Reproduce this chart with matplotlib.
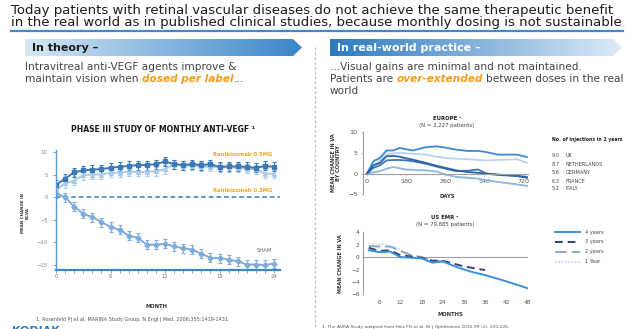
import numpy as np
import matplotlib.pyplot as plt
from matplotlib.lines import Line2D
from matplotlib.patches import Polygon
from matplotlib.colors import LinearSegmentedColormap

W, H = 640, 329

# Phase III study (MARINA), mean change in BCVA by month
months = list(range(25))
rani_05 = [2.7, 4.1, 5.5, 5.9, 6.1, 6.2, 6.5, 6.7, 6.9, 7.1, 7.1, 7.3, 7.9, 7.3, 7.1, 7.3, 7.1, 7.3, 6.7, 6.8, 6.8, 6.7, 6.5, 6.9, 6.7]
rani_03 = [1.5, 3.1, 3.6, 4.9, 5.0, 5.0, 5.4, 5.4, 5.6, 5.6, 5.6, 5.7, 6.2, 7.3, 7.0, 6.9, 6.8, 6.7, 6.6, 6.6, 6.5, 6.3, 6.2, 5.2, 5.2]
sham = [0.9, 0.0, -2.1, -3.7, -4.4, -5.5, -6.6, -7.2, -8.5, -9.0, -10.5, -10.5, -10.3, -10.9, -11.3, -11.6, -12.5, -13.4, -13.5, -13.8, -14.2, -14.9, -14.9, -15.0, -14.7]
err_bar = 1.0

# Europe, mean change in VA by country
days_eu = [0, 30, 60, 90, 120, 150, 180, 210, 270, 320, 360, 410, 460, 510, 550, 600, 690, 735]
uk = [0, 3.0, 3.8, 5.6, 5.6, 6.2, 5.9, 5.6, 6.4, 6.6, 6.3, 5.8, 5.5, 5.5, 5.2, 4.6, 4.6, 4.0]
nl = [0, 2.0, 3.2, 4.7, 4.9, 5.0, 4.9, 4.8, 4.6, 4.1, 3.8, 3.6, 3.5, 3.3, 3.2, 3.3, 3.5, 2.6]
de = [0, 2.0, 2.6, 4.2, 4.3, 4.1, 3.7, 3.4, 2.6, 1.9, 1.4, 0.8, 0.4, 0.2, 0.0, -0.3, -0.6, -1.0]
fr = [0, 1.4, 2.0, 3.2, 3.3, 3.3, 3.2, 3.0, 2.4, 1.7, 1.2, 0.6, 0.7, 1.0, 0.0, -0.2, -0.5, -0.8]
it = [0, 0.3, 0.6, 1.2, 1.6, 1.3, 1.0, 0.9, 0.8, 0.5, -0.2, -0.8, -1.0, -1.2, -1.6, -2.0, -2.6, -3.0]
countries = ["UK", "NETHERLANDS", "GERMANY", "FRANCE", "ITALY"]
injections = ["9.0", "8.7", "5.6", "6.3", "5.2"]

# US EMR, mean change in VA by follow-up length
m4 = [3, 6, 9, 12, 15, 18, 21, 24, 27, 30, 33, 36, 42, 48]
y4 = [1.1, 0.8, 0.9, 0.0, -0.1, -0.2, -0.9, -0.7, -1.4, -2.0, -2.5, -2.9, -3.9, -5.0]
m3 = [3, 6, 9, 12, 15, 18, 21, 24, 30, 36]
y3 = [1.5, 1.0, 1.1, 0.3, 0.1, -0.1, -0.6, -0.6, -1.5, -2.1]
m2 = [3, 6, 9, 12, 15, 18, 21, 24]
y2 = [1.8, 1.7, 1.7, 1.0, 0.3, 0.0, -0.5, -0.7]
m1 = [3, 6, 9, 12]
y1 = [2.2, 2.1, 1.9, 1.2]
us_labels = ["4 years", "3 years", "2 years", "1 Year"]

fig = plt.figure(figsize=(W / 100, H / 100), dpi=100)


def T(x, y, s, **kw):
    kw.setdefault("va", "center")
    return fig.text(x / W, 1 - y / H, s, **kw)


def box(l, t, r, b):
    return [l / W, 1 - b / H, (r - l) / W, (b - t) / H]


def hline(x0, x1, y, **kw):
    fig.add_artist(Line2D([x0 / W, x1 / W], [1 - y / H, 1 - y / H], transform=fig.transFigure, **kw))


def run(x, y, parts, size):
    # draw text pieces one after another on one line
    r = fig.canvas.get_renderer()
    probe = T(0, -50, "a a", fontsize=size)
    probe2 = T(0, -50, "aa", fontsize=size)
    gap = probe.get_window_extent(r).width - probe2.get_window_extent(r).width
    probe.remove()
    probe2.remove()
    for s, kw in parts:
        if s.startswith(" "):
            x += gap
            s = s[1:]
        t = T(x, y, s, fontsize=size, **kw)
        x = t.get_window_extent(r).x1


# headline
T(11, 10.5, "Today patients with retinal vascular diseases do not achieve the same therapeutic benefit",
  fontsize=9.5, color="#1a1a1a")
T(11, 22.5, "in the real world as in published clinical studies, because monthly dosing is not sustainable",
  fontsize=9.5, color="#1a1a1a")
hline(11, 623, 31, color="#3c8ad0", lw=1.6)


def banner(x0, x1, c_left, c_right):
    ax = fig.add_axes(box(x0, 39, x1, 56))
    ax.set_xlim(x0, x1)
    ax.set_ylim(56, 39)
    ax.axis("off")
    cmap = LinearSegmentedColormap.from_list("g", [c_left, c_right])
    im = ax.imshow(np.linspace(0, 1, 256)[None, :], cmap=cmap, extent=(x0, x1, 56, 39), aspect="auto")
    tip = x1 - 9
    poly = Polygon([(x0, 39), (tip, 39), (x1, 47.5), (tip, 56), (x0, 56)], closed=True,
                   fc="none", ec="none", transform=ax.transData)
    ax.add_patch(poly)
    im.set_clip_path(poly)


banner(25, 302, "#d6e7f5", "#3a86c8")
banner(330, 622, "#2d7ac0", "#dcebf7")
T(32, 48, "In theory \u2013", fontsize=8, weight="bold", color="#1a1a1a")
T(337, 48, "In real-world practice \u2013", fontsize=8, weight="bold", color="white")

body = dict(color="#444444")
hi = dict(color="#f59d1a", weight="bold", style="italic")
T(25, 67, "Intravitreal anti-VEGF agents improve &", fontsize=7.6, **body)
run(25, 79, [("maintain vision when", body), (" dosed per label", hi), ("...", body)], 7.6)
T(330, 67, "...Visual gains are minimal and not maintained.", fontsize=7.6, **body)
run(330, 79, [("Patients are", body), (" over-extended", hi), (" between doses in the real", body)], 7.6)
T(330, 91, "world", fontsize=7.6, **body)

# divider
fig.add_artist(Line2D([315 / W, 315 / W], [1 - 47 / H, 0], transform=fig.transFigure,
                      color="#c4c4c4", lw=1, ls=(0, (2, 1.5))))

# ---- left chart
dark = "#3b78b6"
light = "#a9cae7"
mid = "#7dadd8"
ax = fig.add_axes(box(56, 149.7, 280.4, 269.5))
ax.set_xlim(0, 24.7)
ax.set_ylim(-16, 10.5)
ax.axhline(0, color=dark, lw=1.1, ls=(0, (3, 2)))
ax.errorbar(months, sham, yerr=err_bar, color=mid, marker="D", ms=2.6, lw=1.4,
            elinewidth=0.8, capsize=1.2, capthick=0.8)
ax.errorbar(months, rani_03, yerr=err_bar, color=light, marker="^", ms=2.8, lw=1.4,
            elinewidth=0.8, capsize=1.2, capthick=0.8)
ax.errorbar(months, rani_05, yerr=err_bar, color=dark, marker="s", ms=2.8, lw=1.4,
            elinewidth=0.8, capsize=1.2, capthick=0.8)
for s in ["top", "right"]:
    ax.spines[s].set_visible(False)
ax.spines["left"].set_color("#5b9bd5")
ax.spines["left"].set_linewidth(1.0)
ax.spines["bottom"].set_color("#3f86c8")
ax.spines["bottom"].set_linewidth(1.6)
ax.set_xticks([0, 6, 12, 18, 24])
ax.set_xticks(months, minor=True)
ax.set_yticks([10, 5, 0, -5, -10, -15])
ax.tick_params(axis="x", which="both", length=2, width=0.6, color="#5b9bd5",
               labelsize=3.8, labelcolor="#777777", pad=1)
ax.tick_params(axis="y", length=2, width=0.6, color="#5b9bd5",
               labelsize=3.8, labelcolor="#888888", pad=4)
ax.set_facecolor("none")

T(163, 129, "PHASE III STUDY OF MONTHLY ANTI-VEGF \u00b9", fontsize=5.5, weight="bold",
  color="#1a1a1a", ha="center")
T(243, 154, "Ranibizumab 0.5MG", fontsize=3.8, weight="bold", color="#f5a623", ha="center")
T(243, 190, "Ranibizumab 0.3MG", fontsize=3.8, weight="bold", color="#f5a623", ha="center")
T(264, 250, "SHAM", fontsize=3.8, color="#666666", ha="center")
T(25, 213, "MEAN CHANGE IN\nBCVA", fontsize=2.9, weight="bold", color="#333333",
  ha="center", rotation=90, linespacing=1.1)
T(157, 306, "MONTH", fontsize=3.8, weight="bold", color="#333333", ha="center")
T(133, 320, "1. Rosenfeld PJ et al; MARINA Study Group. N Engl J Med. 2006;355:1419-1431.",
  fontsize=3.5, color="#555555", ha="center")
T(12, 326.5, "KODIAK", fontsize=8, weight="bold", color="#2a7bc4", va="top")

# ---- Europe chart
grey = "#a0a0a0"
eu_colors = ["#3d8ad0", "#b7d4ec", "#2c63a5", "#3a78bd", "#8db7df"]
ax2 = fig.add_axes(box(363, 132.3, 528, 194.3))
ax2.set_xlim(-18, 740)
ax2.set_ylim(-5, 10)
for vals, c in zip([nl, it, uk, fr, de], [eu_colors[1], eu_colors[4], eu_colors[0], eu_colors[3], eu_colors[2]]):
    ax2.plot(days_eu, vals, color=c, lw=1.3)
for s in ["top", "right"]:
    ax2.spines[s].set_visible(False)
ax2.spines["bottom"].set_position(("data", 0))
for s in ["left", "bottom"]:
    ax2.spines[s].set_color(grey)
    ax2.spines[s].set_linewidth(0.8)
ax2.set_xticks([0, 180, 360, 540, 720])
ax2.set_xticks(range(0, 741, 30), minor=True)
ax2.set_yticks([-5, 0, 5, 10])
ax2.tick_params(axis="x", which="major", length=1.5, width=0.5, color=grey,
                labelsize=4.6, labelcolor="#555555", pad=2.4)
ax2.tick_params(axis="x", which="minor", length=1, width=0.4, color=grey)
ax2.tick_params(axis="y", length=1.5, width=0.5, color=grey,
                labelsize=4.6, labelcolor="#555555", pad=2.5)
ax2.set_facecolor("none")

T(447, 119, "EUROPE \u00b9", fontsize=3.9, weight="bold", color="#222222", ha="center")
T(447, 126, "(N = 2,227 patients)", fontsize=3.9, color="#444444", ha="center")
T(336, 163, "MEAN CHANGE IN VA\nBY COUNTRY", fontsize=3.6, weight="bold", color="#333333",
  ha="center", rotation=90, linespacing=1.15)
T(447, 196, "DAYS", fontsize=3.8, weight="bold", color="#333333", ha="center")
T(552, 139.3, "No. of injections in 2 years", fontsize=3.3, weight="bold", color="#222222")
for i, (n, name) in enumerate(zip(injections, countries)):
    y = [156, 164.3, 172.7, 181, 188.3][i]
    T(552, y, n, fontsize=3.6, color="#444444")
    T(566, y, name, fontsize=3.6, color="#444444")

# ---- US EMR chart
ax3 = fig.add_axes(box(363.3, 232.3, 528, 294.3))
ax3.set_xlim(1.45, 48.2)
ax3.set_ylim(-6, 4)
ax3.axhline(0, color=grey, lw=0.8)
us_styles = [
    dict(color="#3b8fd8", lw=1.4, ls="-"),
    dict(color="#2f4673", lw=1.4, ls=(0, (4, 2.5))),
    dict(color="#8ea8c8", lw=1.4, ls=(0, (6, 2.5))),
    dict(color="#c5d6ea", lw=1.2, ls=(0, (1, 1))),
]
for (mx, my), st in zip([(m1, y1), (m2, y2), (m3, y3), (m4, y4)], us_styles[::-1]):
    ax3.plot(mx, my, **st)
for s in ["top", "right", "bottom"]:
    ax3.spines[s].set_visible(False)
ax3.spines["left"].set_color(grey)
ax3.spines["left"].set_linewidth(0.8)
ax3.set_xticks([6, 12, 18, 24, 30, 36, 42, 48])
ax3.set_yticks([4, 2, 0, -2, -4, -6])
ax3.tick_params(axis="x", length=0, labelsize=4.2, labelcolor="#555555", pad=3.9)
ax3.tick_params(axis="y", length=1, width=0.5, color=grey, labelsize=4.2, labelcolor="#555555", pad=1.5)
ax3.set_facecolor("none")

T(445, 217.3, "US EMR \u00b2", fontsize=3.9, weight="bold", color="#222222", ha="center")
T(445, 224.3, "(N = 79,885 patients)", fontsize=3.9, color="#444444", ha="center")
T(341, 264, "MEAN CHANGE IN VA", fontsize=3.6, weight="bold", color="#333333",
  ha="center", rotation=90)
T(450, 315, "MONTHS", fontsize=3.8, weight="bold", color="#333333", ha="center")
for i, (lab, st) in enumerate(zip(us_labels, us_styles)):
    y = [232.3, 242, 252, 261.7][i]
    hline(555, 580, y, **st)
    T(585, y, lab, fontsize=3.6, color="#444444")
T(322, 327, "1. The AURA Study adapted from Holz FG et al. Br J Ophthalmol 2015;99 (2): 220-226.",
  fontsize=3.2, color="#555555")

fig.savefig("out.png", dpi=100)
